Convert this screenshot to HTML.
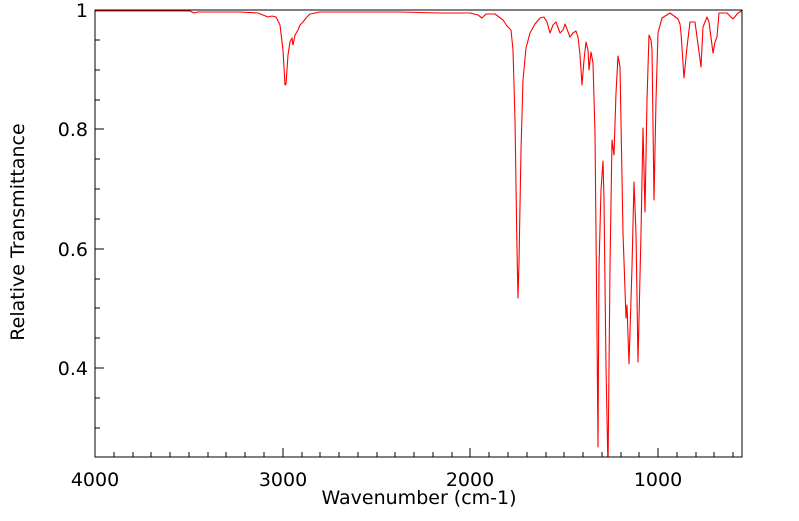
<!DOCTYPE html>
<html><head><meta charset="utf-8"><style>
body{margin:0;background:#fff;}
svg text{font-family:"DejaVu Sans","Liberation Sans",sans-serif;fill:#000;}
</style></head><body>
<svg width="799" height="516" viewBox="0 0 799 516" xmlns="http://www.w3.org/2000/svg">
<defs><clipPath id="c"><rect x="95" y="10" width="647" height="447"/></clipPath></defs>
<g stroke="#000" stroke-width="1">
<path d="M114,457v-5M133,457v-5M151,457v-5M170,457v-5M189,457v-5M208,457v-5M226,457v-5M245,457v-5M264,457v-5M302,457v-5M320,457v-5M339,457v-5M358,457v-5M377,457v-5M395,457v-5M414,457v-5M433,457v-5M452,457v-5M489,457v-5M508,457v-5M527,457v-5M546,457v-5M564,457v-5M583,457v-5M602,457v-5M621,457v-5M639,457v-5M677,457v-5M696,457v-5M714,457v-5M733,457v-5"/>
<path d="M283,457v-9M470,457v-9M658,457v-9"/>
<path d="M95,129h9M95,249h9M95,368h9M95,40h5M95,70h5M95,100h5M95,159h5M95,189h5M95,219h5M95,279h5M95,308h5M95,338h5M95,398h5M95,428h5"/>
</g>
<polyline clip-path="url(#c)" fill="none" stroke="#ff0000" stroke-width="1.1" stroke-linejoin="round" points="95,11 150,11 190,11 194,13 198,12 240,12 258,13 263,15 268,17 272,16 276,17 280,25 283,50 285,85 286,84 288,55 290,42 292,38 293,45 295,35 298,30 300,25 303,22 306,18 310,14 320,12 400,12 440,13 455,13 470,13 478,15 482,18 486,14 495,14 503,20 507,26 511,30 513,50 515,120 517,250 518,298 519,262 521,150 523,80 526,48 530,33 535,24 540,18 544,17 547,22 550,33 553,25 556,22 560,33 563,30 565,24 570,37 573,33 576,31 578,37 580,55 582,85 584,60 586,42 588,50 589,70 591,52 593,63 595,133 597,333 598,447 599,267 601,190 603,161 604,200 606,367 608,470 610,267 612,140 613,148 614,155 616,93 618,56 620,67 623,233 626,318 627,305 629,364 632,267 634,182 636,233 638,362 641,233 643,128 645,212 647,100 649,35 651,40 652,50 654,200 656,100 658,33 662,18 670,13 678,19 680,24 681,33 684,78 687,47 690,22 695,22 697,37 701,67 703,27 707,17 709,22 713,53 715,42 717,37 719,13 727,13 730,16 733,19 738,13 743,10"/>
<rect x="95" y="10" width="647" height="447" fill="none" stroke="#000" stroke-width="1"/>
<g font-size="19">
<text x="88" y="17" text-anchor="end">1</text>
<text x="88" y="136" text-anchor="end">0.8</text>
<text x="88" y="256" text-anchor="end">0.6</text>
<text x="88" y="375" text-anchor="end">0.4</text>
<text x="95" y="486" text-anchor="middle">4000</text>
<text x="283" y="486" text-anchor="middle">3000</text>
<text x="470" y="486" text-anchor="middle">2000</text>
<text x="658" y="486" text-anchor="middle">1000</text>
<text x="419" y="504" text-anchor="middle">Wavenumber (cm-1)</text>
<text transform="translate(24,232) rotate(-90)" text-anchor="middle">Relative Transmittance</text>
</g>
</svg>
</body></html>
